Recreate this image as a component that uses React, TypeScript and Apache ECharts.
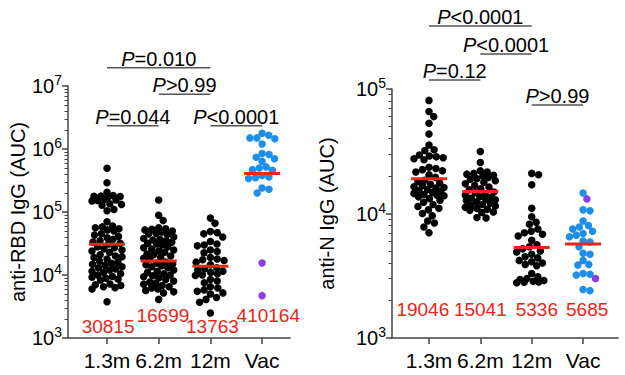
import { useEffect, useRef } from "react";
import * as echarts from "echarts";

// ---------------- data ----------------
const categories = ["1.3m", "6.2m", "12m", "Vac"];

const rbd13 = [494000, 292000, 205000, 182000, 180000, 178000, 176000, 174000, 160000, 155000, 152000, 150000,
  135000, 132000, 128000, 110000, 105000, 70000, 60000, 58000, 56000, 54000, 52000, 50000, 45000, 43000, 41000,
  39000, 37000, 35000, 33500, 32000, 31000, 28000, 27000, 26000, 25000, 24000, 23000, 21000, 20000, 19500, 19000,
  18000, 16500, 16000, 15300, 14800, 14200, 13500, 13000, 12500, 12000, 11500, 11000, 10500, 10000, 9500, 9200,
  8900, 8600, 8300, 7200, 7000, 6800, 6500, 6300, 6000, 3770];
const rbd62 = [155000, 89000, 73000, 56000, 54000, 53000, 52000, 50000, 48000, 46000, 45000, 44000, 40000, 38000,
  37000, 36000, 35000, 33000, 32000, 31000, 30000, 28000, 27000, 26000, 25000, 24000, 23000, 21500, 21000, 20000,
  19000, 18500, 18000, 16000, 15500, 15000, 14500, 14000, 13500, 13000, 12000, 11500, 11000, 10500, 10000, 9700,
  9400, 9000, 8500, 8000, 7700, 7400, 7100, 6800, 6500, 6200, 6000, 5700, 5400, 5200, 4100];
const rbd12 = [80000, 66000, 49000, 47000, 45000, 40000, 34000, 31000, 30000, 29000, 25000, 23500, 22500, 19000,
  18000, 17500, 17000, 16000, 14500, 13000, 12500, 12000, 11500, 11000, 10500, 10000, 9800, 8500, 8000, 7500, 6500,
  6200, 5800, 5500, 5200, 5000, 4400, 4100, 3700, 2500];
const rbdVacBlue = [1780000, 1650000, 1500000, 1500000, 1450000, 1200000, 850000, 820000, 740000, 700000, 640000,
  520000, 500000, 470000, 460000, 380000, 360000, 350000, 340000, 240000, 230000, 200000];
const rbdVacPurple = [15500, 4700];
const rbdMedians = [30815, 16699, 13763, 410164];

const n13 = [81000, 66000, 60000, 53000, 43500, 35500, 32500, 32000, 29500, 29000, 28500, 28000, 27500, 27000,
  23500, 23000, 22500, 22000, 21500, 20500, 19500, 18500, 18000, 17600, 17200, 16800, 16400, 16200, 16000, 15600,
  15300, 15000, 14800, 14500, 14200, 14000, 13900, 13600, 13200, 12800, 12300, 11800, 11400, 11000, 10700, 10000,
  9600, 8700, 8400, 7800, 7000];
const n62 = [31500, 25700, 22000, 21500, 21000, 20700, 20300, 20000, 19500, 19000, 18800, 18300, 17800, 17300,
  16800, 16300, 15800, 15500, 14900, 14700, 14300, 14000, 13600, 13500, 13300, 13000, 12900, 12700, 12400, 12100,
  11800, 11700, 11500, 11200, 11000, 10800, 10600, 10300, 10200, 9300, 9200];
const n12 = [21000, 20500, 17000, 11000, 9400, 8500, 8200, 7500, 7200, 7000, 6800, 6600, 6100, 5600, 5400, 5200,
  5000, 4900, 4700, 4500, 4400, 4200, 4100, 4000, 3900, 3800, 3300, 3100, 3000, 2950, 2900, 2850, 2820, 2800, 2780];
const nVacBlue = [14600, 10700, 10500, 8700, 8000, 7800, 7500, 7200, 6900, 6700, 6500, 6000, 5900, 5400, 4800,
  4700, 4200, 3900, 3850, 3300, 3250, 3200, 2450, 2400];
const nVacPurple = [13100, 3000];
const nMedians = [19046, 15041, 5336, 5685];

const rbdBrackets = [
  { from: 0, to: 2, text: "=0.010" },
  { from: 1, to: 2, text: ">0.99" },
  { from: 0, to: 1, text: "=0.044" },
  { from: 2, to: 3, text: "<0.0001" },
];
const nBrackets = [
  { from: 0, to: 2, text: "<0.0001" },
  { from: 1, to: 2, text: "<0.0001" },
  { from: 0, to: 1, text: "=0.12" },
  { from: 2, to: 3, text: ">0.99" },
];

// ---------------- layout (positions in axis units) ----------------
const rbdBracketLevels = [7.29, 6.87, 6.37, 6.37];
const nBracketLevels = [5.506, 5.281, 5.072, 4.871];
const rbdLabelY = [3.175, 3.365, 3.175, 3.365];
const nLabelY = [3.225, 3.225, 3.225, 3.225];
const rbdLabelDX = [0.02, 0.08, 0.04, 0.12];
const nLabelDX = [-0.12, 0, 0.1, 0.08];

const FONT = "Liberation Sans, Arial, Helvetica, sans-serif";
const BLACK = "#000000";
const BLUE = "#1e8fe9";
const PURPLE = "#8a3fe2";
const RED = "#e8261a";
const AXIS = "#444444";

function minorTicks(lo: number, hi: number) {
  const out: number[] = [];
  for (let k = lo; k < hi; k++) for (let m = 2; m <= 9; m++) out.push(k + Math.log10(m));
  return out;
}

function swarm(ys: number[], d: number, maxHalf: number): number[] {
  const order = ys.map((_, i) => i).sort((a, b) => ys[a] - ys[b]);
  const placed: { x: number; y: number }[] = [];
  const xs = new Array(ys.length).fill(0);
  for (const i of order) {
    const y = ys[i];
    const near = placed.filter((p) => Math.abs(p.y - y) < d);
    const cands = [0];
    for (const p of near) {
      const dx = Math.sqrt(d * d - (p.y - y) * (p.y - y));
      cands.push(p.x + dx, p.x - dx);
    }
    cands.sort((a, b) => Math.abs(a) - Math.abs(b));
    let best: number | null = null;
    for (const c of cands) {
      if (Math.abs(c) > maxHalf + 0.01) continue;
      if (near.every((p) => (p.x - c) ** 2 + (p.y - y) ** 2 >= d * d - 0.01)) {
        best = c;
        break;
      }
    }
    if (best === null) {
      let bestScore = -1;
      for (let s = -maxHalf; s <= maxHalf + 0.001; s += 0.5) {
        const score = near.length ? Math.min(...near.map((p) => (p.x - s) ** 2 + (p.y - y) ** 2)) : 1e9;
        if (score > bestScore) {
          bestScore = score;
          best = s;
        }
      }
    }
    xs[i] = best as number;
    placed.push({ x: best as number, y });
  }
  return xs;
}

export default function App() {
  const ref = useRef<HTMLDivElement>(null);
  useEffect(() => {
    if (!ref.current) return;
    const chart = echarts.init(ref.current, undefined, { renderer: "svg" });

    const yLabel = {
      fontFamily: FONT,
      color: BLACK,
      margin: 6,
      formatter: (v: number) => "{b|10}{s|" + Math.round(v) + "}",
      rich: {
        b: { fontSize: 20, lineHeight: 26, verticalAlign: "middle", fontFamily: FONT, color: BLACK },
        s: { fontSize: 14, lineHeight: 12, verticalAlign: "top", fontFamily: FONT, color: BLACK },
      },
    };
    const axisLine = { show: true, onZero: false, lineStyle: { color: AXIS, width: 1.5 } };

    const mkX = (gridIndex: number, min: number, max: number) => ({
      type: "value",
      gridIndex,
      min,
      max,
      axisLine,
      splitLine: { show: false },
      axisTick: { show: true, length: 6, customValues: [0, 1, 2, 3], lineStyle: { color: AXIS, width: 1.5 } },
      axisLabel: {
        customValues: [0, 1, 2, 3],
        formatter: (v: number) => categories[Math.round(v)] ?? "",
        fontFamily: FONT,
        fontSize: 21,
        color: BLACK,
        margin: 12,
      },
    });
    const mkY = (gridIndex: number, lo: number, hi: number, name: string, nameGap: number) => [
      {
        type: "value",
        gridIndex,
        min: lo,
        max: hi,
        interval: 1,
        position: "left",
        axisLine,
        splitLine: { show: false },
        axisTick: { show: true, length: 6, lineStyle: { color: AXIS, width: 1.5 } },
        axisLabel: yLabel,
        name,
        nameLocation: "middle",
        nameGap,
        nameTextStyle: { fontFamily: FONT, fontSize: 20, color: BLACK },
      },
      {
        type: "value",
        gridIndex,
        min: lo,
        max: hi,
        position: "left",
        axisLine: { show: false, onZero: false },
        splitLine: { show: false },
        axisTick: { show: true, length: 3.5, customValues: minorTicks(lo, hi), lineStyle: { color: AXIS, width: 1 } },
        axisLabel: { show: false },
      },
    ];

    const bracketSeries = (xAxisIndex: number, yAxisIndex: number, brackets: typeof rbdBrackets, levels: number[]) => ({
      type: "custom",
      xAxisIndex,
      yAxisIndex,
      clip: false,
      silent: true,
      z: 10,
      data: brackets.map((b, i) => [b.from, b.to, levels[i]]),
      renderItem: (params: any, api: any) => {
        const a = api.coord([api.value(0), api.value(2)]);
        const c = api.coord([api.value(1), api.value(2)]);
        const b = brackets[params.dataIndex];
        return {
          type: "group",
          children: [
            { type: "line", shape: { x1: a[0], y1: a[1], x2: c[0], y2: a[1] }, style: { stroke: "#555555", lineWidth: 1.5 } },
            {
              type: "text",
              x: (a[0] + c[0]) / 2,
              y: a[1] - 9,
              style: {
                text: "{i|P}{n|" + b.text + "}",
                align: "center",
                verticalAlign: "middle",
                rich: {
                  i: { fontStyle: "italic", fontSize: 20, fontFamily: FONT, fill: BLACK },
                  n: { fontSize: 20, fontFamily: FONT, fill: BLACK },
                },
                fontSize: 20,
                fontFamily: FONT,
                fill: BLACK,
              },
            },
          ],
        };
      },
    });

    const medianSeries = (xAxisIndex: number, yAxisIndex: number, medians: number[]) => ({
      type: "scatter",
      xAxisIndex,
      yAxisIndex,
      symbol: "rect",
      symbolSize: [36, 3],
      itemStyle: { color: RED, opacity: 1 },
      z: 6,
      silent: true,
      data: medians.map((m, i) => [i, Math.log10(m)]),
    });
    const labelSeries = (xAxisIndex: number, yAxisIndex: number, medians: number[], ys: number[], dx: number[]) => ({
      type: "scatter",
      xAxisIndex,
      yAxisIndex,
      symbolSize: 0,
      silent: true,
      z: 7,
      itemStyle: { opacity: 1 },
      data: medians.map((_, i) => [i + dx[i], ys[i]]),
      label: {
        show: true,
        position: "inside",
        formatter: (p: any) => String(medians[p.dataIndex]),
        fontFamily: FONT,
        fontSize: 19,
        color: RED,
        opacity: 1,
      },
    });

    const base: any = {
      animation: false,
      grid: [
        { left: 68, top: 86, width: 222, height: 252 },
        { left: 392, top: 89, width: 226, height: 249 },
      ],
      xAxis: [mkX(0, -0.755, 3.54), mkX(1, -0.72, 3.68)],
      yAxis: [...mkY(0, 3, 7, "anti-RBD IgG (AUC)", 40), ...mkY(1, 3, 5, "anti-N IgG (AUC)", 55)],
      series: [],
    };
    chart.setOption(base);

    const dots = (xAxisIndex: number, yAxisIndex: number, groups: { values: number[]; colors: string[] }[]) => {
      const finder = { xAxisIndex, yAxisIndex };
      const p0 = chart.convertToPixel(finder, [0, 3]) as number[];
      const p1 = chart.convertToPixel(finder, [1, 3]) as number[];
      const pxPerUnit = p1[0] - p0[0];
      const data: any[] = [];
      groups.forEach((g, gi) => {
        const ys = g.values.map((v) => (chart.convertToPixel(finder, [gi, Math.log10(v)]) as number[])[1]);
        const xs = swarm(ys, 7, 15);
        g.values.forEach((v, i) => {
          data.push({ value: [gi + xs[i] / pxPerUnit, Math.log10(v)], itemStyle: { color: g.colors[i], opacity: 1 } });
        });
      });
      return {
        type: "scatter",
        xAxisIndex,
        yAxisIndex,
        symbolSize: 7.5,
        itemStyle: { opacity: 1 },
        z: 4,
        silent: true,
        data,
      };
    };
    const col = (arr: number[], c: string) => arr.map(() => c);

    const rbdGroups = [
      { values: rbd13, colors: col(rbd13, BLACK) },
      { values: rbd62, colors: col(rbd62, BLACK) },
      { values: rbd12, colors: col(rbd12, BLACK) },
      { values: [...rbdVacBlue, ...rbdVacPurple], colors: [...col(rbdVacBlue, BLUE), ...col(rbdVacPurple, PURPLE)] },
    ];
    const nGroups = [
      { values: n13, colors: col(n13, BLACK) },
      { values: n62, colors: col(n62, BLACK) },
      { values: n12, colors: col(n12, BLACK) },
      { values: [...nVacBlue, ...nVacPurple], colors: [...col(nVacBlue, BLUE), ...col(nVacPurple, PURPLE)] },
    ];

    chart.setOption({
      series: [
        dots(0, 0, rbdGroups),
        medianSeries(0, 0, rbdMedians),
        labelSeries(0, 0, rbdMedians, rbdLabelY, rbdLabelDX),
        bracketSeries(0, 0, rbdBrackets, rbdBracketLevels),
        dots(1, 2, nGroups),
        medianSeries(1, 2, nMedians),
        labelSeries(1, 2, nMedians, nLabelY, nLabelDX),
        bracketSeries(1, 2, nBrackets, nBracketLevels),
      ],
    });

    return () => chart.dispose();
  }, []);
  return <div ref={ref} style={{ position: "fixed", left: 0, top: 0, width: 625, height: 375, background: "#fff" }} />;
}
